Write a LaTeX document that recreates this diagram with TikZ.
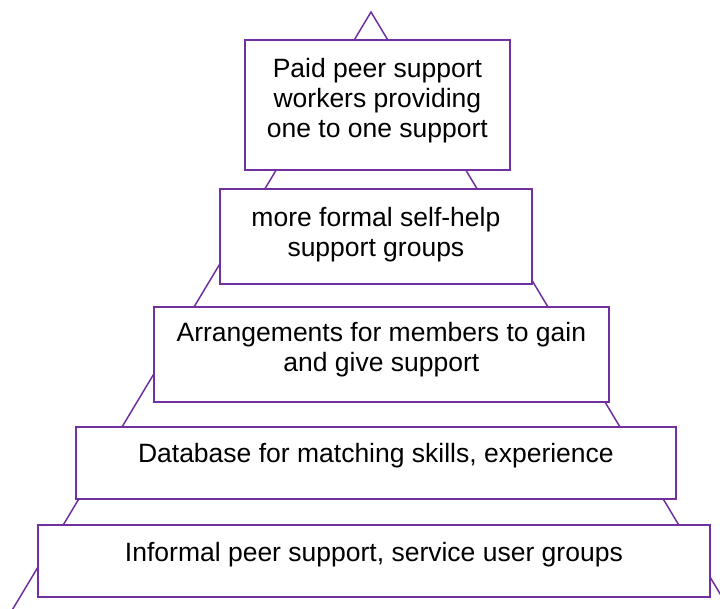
\documentclass[tikz,border=0pt]{standalone}
\usepackage{fontspec}
\setmainfont{Liberation Sans}
\definecolor{pyr}{RGB}{112,48,160}
\tikzset{
  pbox/.style={draw=pyr, line width=1.8pt, fill=white, rectangle, inner sep=0pt, anchor=north west},
  lbl/.style={inner sep=0pt, align=center, anchor=north, text=black,
    font=\fontsize{26.5}{30}\selectfont},
  tri/.style={draw=pyr, line width=1.5pt, line join=miter}
}
\begin{document}
\begin{tikzpicture}[x=1pt,y=-1pt]
\path[use as bounding box] (0,0) rectangle (720,608);
\clip (0,0) rectangle (720,608);
\coordinate (apex) at (371,12);
\coordinate (bl) at (-1,632);
\coordinate (br) at (743,632);
\draw[tri] (bl) -- (apex) -- (br);
\node[pbox, minimum width=265pt, minimum height=130pt] (b1) at (244,39) {};
\node[pbox, minimum width=312pt, minimum height=95pt] (b2) at (219,188) {};
\node[pbox, minimum width=455pt, minimum height=95pt] (b3) at (153,306) {};
\node[pbox, minimum width=600pt, minimum height=72pt] (b4) at (75,426) {};
\node[pbox, minimum width=672pt, minimum height=72pt] (b5) at (37,524) {};
\node[lbl] (t1) at ([yshift=-19pt]b1.north) {Paid peer support\\workers providing\\one to one support};
\node[lbl] (t2) at ([yshift=-19pt]b2.north) {more formal self-help\\support groups};
\node[lbl] (t3) at ([yshift=-16pt]b3.north) {Arrangements for members to gain\\and give support};
\node[lbl] (t4) at ([yshift=-17pt]b4.north) {Database for matching skills, experience};
\node[lbl] (t5) at ([yshift=-18pt]b5.north) {Informal peer support, service user groups};
\end{tikzpicture}
\end{document}
